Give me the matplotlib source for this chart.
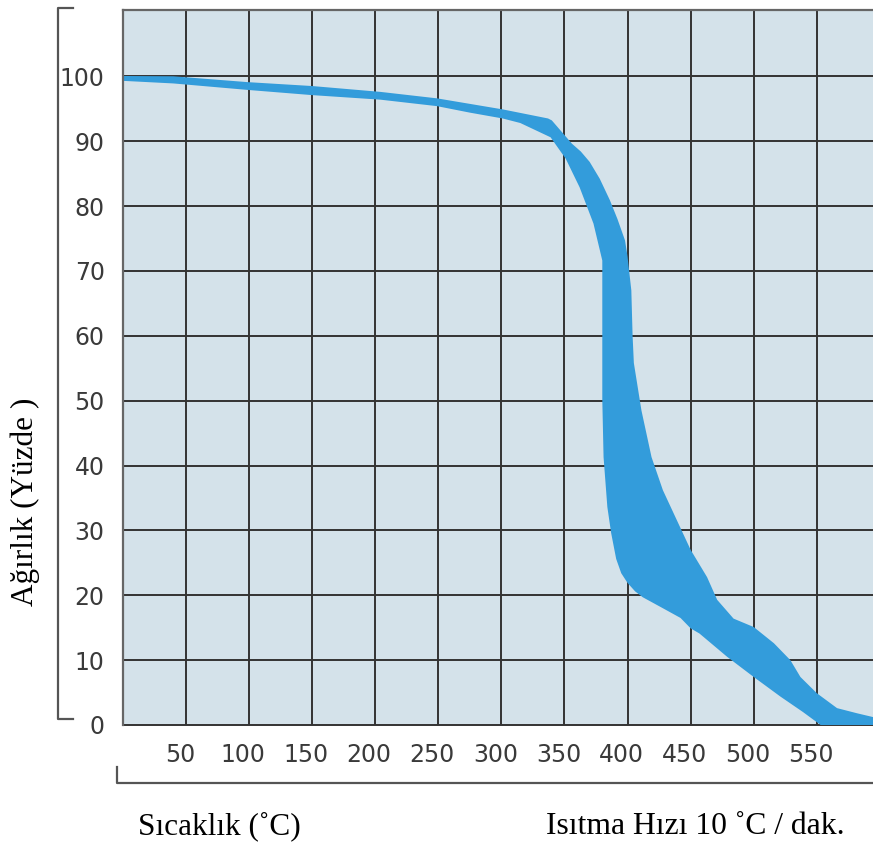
import numpy as np
import matplotlib
matplotlib.use('Agg')
import matplotlib.pyplot as plt
from matplotlib.lines import Line2D
from matplotlib.transforms import ScaledTranslation

# DATA
x_ticks = [50, 100, 150, 200, 250, 300, 350, 400, 450, 500, 550]
y_ticks = [0, 10, 20, 30, 40, 50, 60, 70, 80, 90, 100]

# outer (top / right) edge of the weight-loss band
upper_temp = [0, 40, 99, 150, 204, 249, 301, 337, 340, 356, 363, 370, 378, 386,
              392, 398, 400, 403, 404, 405, 411, 419, 428, 439, 450, 463, 471,
              484, 500, 516, 529, 537, 550, 566, 582, 595]
upper_weight = [100.05, 100.0, 99.1, 98.5, 97.6, 96.6, 94.9, 93.5, 93.2, 89.6, 88.4,
                86.8, 84.2, 80.9, 78.0, 74.7, 72.2, 67.0, 60.0, 55.8, 48.5, 41.3,
                36.2, 31.6, 27.0, 22.8, 19.3, 16.4, 15.1, 12.6, 10.0, 7.4, 4.9,
                2.6, 1.8, 1.2]

# inner (bottom / left) edge of the band
lower_temp = [0, 40, 99, 150, 204, 249, 275, 301, 315, 339, 351, 362, 373, 380,
              380, 381, 384, 387, 391, 395, 400, 406, 412, 428, 442, 450, 457,
              479, 500, 521, 539, 553, 595]
lower_weight = [99.3, 98.9, 97.9, 97.1, 96.4, 95.4, 94.4, 93.5, 92.8, 90.6, 87.3,
                82.9, 77.3, 71.6, 50.1, 41.3, 33.6, 29.6, 25.6, 23.4, 21.9, 20.6,
                19.7, 18.0, 16.5, 14.9, 14.1, 10.5, 7.4, 4.4, 2.0, 0.0, 0.0]

# STYLES
bg_color = '#d4e2ea'
band_color = '#339cdb'
grid_color = '#333333'
frame_color = '#666666'
tick_color = '#3a3a3a'
tick_font = ['Liberation Sans Narrow', 'DejaVu Sans']
label_font = ['Liberation Serif', 'DejaVu Serif']

fig = plt.figure(figsize=(8.73, 8.44), dpi=100)
ax = fig.add_axes([0.1406, 0.141, 0.8594, 0.847])
ax.set_facecolor(bg_color)
ax.set_xlim(0, 594.5)
ax.set_ylim(0, 110.2)

# grid
for t in x_ticks:
    ax.axvline(t, color=grid_color, linewidth=1.4, zorder=1)
for w in y_ticks[1:]:
    ax.axhline(w, color=grid_color, linewidth=1.4, zorder=1)
ax.axhline(0, color=grid_color, linewidth=1.4, zorder=1, clip_on=False)

# band
band_t = np.concatenate([upper_temp, lower_temp[::-1]])
band_w = np.concatenate([upper_weight, lower_weight[::-1]])
ax.fill(band_t, band_w, color=band_color, linewidth=0, zorder=2, clip_on=False)

# frame
for side in ['right', 'bottom']:
    ax.spines[side].set_visible(False)
for side in ['left', 'top']:
    ax.spines[side].set_color(frame_color)
    ax.spines[side].set_linewidth(1.6)

# ticks
ax.set_xticks(x_ticks)
ax.set_yticks(y_ticks)
ax.tick_params(length=0, colors=tick_color, labelsize=17)
ax.tick_params(axis='x', pad=13)
ax.tick_params(axis='y', pad=13)
for lbl in ax.get_xticklabels() + ax.get_yticklabels():
    lbl.set_family(tick_font)
shift = ScaledTranslation(-6 / 100, 0, fig.dpi_scale_trans)
for lbl in ax.get_xticklabels():
    lbl.set_transform(lbl.get_transform() + shift)

# bracket decorations
W, H = 873, 844
def fig_line(xs, ys):
    fig.add_artist(Line2D([x / W for x in xs], [1 - y / H for y in ys],
                          color='#555555', linewidth=1.6))

fig_line([73, 58, 58, 73], [8, 8, 719, 719])
fig_line([117, 117, 873], [767, 783, 783])

# axis texts
fig.text(138 / W, 1 - 826 / H, 'Sıcaklık (˚C)', family=label_font,
         fontsize=22.5, ha='left', va='center', color='black')
fig.text(546 / W, 1 - 826 / H, 'Isıtma Hızı 10 ˚C / dak.', family=label_font,
         fontsize=22.8, ha='left', va='center', color='black')
fig.text(25 / W, 1 - 502 / H, 'Ağırlık (Yüzde )', family=label_font,
         fontsize=22.5, ha='center', va='center', rotation=90, color='black')

fig.savefig('out.png', dpi=100)
